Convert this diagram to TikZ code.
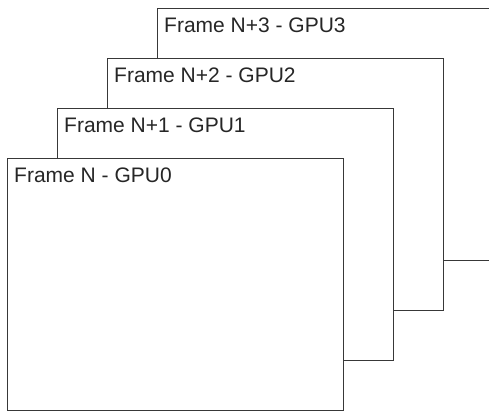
\documentclass[tikz,border=0pt]{standalone}
\usepackage{fontspec}
\setmainfont{Liberation Sans}
\usetikzlibrary{positioning}
\tikzset{
  frame/.style={draw=black!78, line width=1.2pt, fill=white, minimum width=336pt,
    minimum height=252pt, inner sep=0pt, anchor=north west},
  framelabel/.style={inner sep=0pt, anchor=north west, text=black!85,
    font=\fontsize{21}{24}\selectfont}
}
\begin{document}
\begin{tikzpicture}[x=1pt,y=1pt]
\clip (0,0) rectangle (489,-412);
% back to front: GPU3 first, GPU0 on top
\foreach \i in {3,2,1,0}{
  \node[frame] (frame\i) at ({7+50*\i},{-158+50*\i}) {};
  \node[framelabel, below right=10pt and 7pt of frame\i.north west] (label\i)
    {Frame N\ifnum\i>0 +\i\fi{} - GPU\i};
}
\end{tikzpicture}
\end{document}
